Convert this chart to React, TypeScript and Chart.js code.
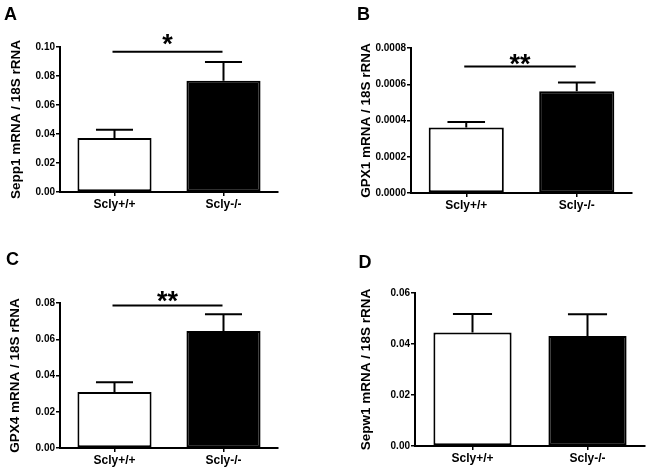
import React, { useEffect, useRef } from "react";
import { Chart, registerables } from "chart.js";

Chart.register(...registerables);

const FONT = "'Liberation Sans', Arial, Helvetica, sans-serif";

const categories = ["Scly+/+", "Scly-/-"];
const barFills = ["#ffffff", "#000000"];

// Panel A: Sepp1
const sepp1Means = [0.0372, 0.0768];
const sepp1Sem = [0.0058, 0.0129];
const sepp1Ticks = [0, 0.02, 0.04, 0.06, 0.08, 0.1];

// Panel B: GPX1
const gpx1Means = [0.000362, 0.000561];
const gpx1Sem = [0.00003, 0.000049];
const gpx1Ticks = [0, 0.0002, 0.0004, 0.0006, 0.0008];

// Panel C: GPX4
const gpx4Means = [0.0309, 0.0646];
const gpx4Sem = [0.0054, 0.0092];
const gpx4Ticks = [0, 0.02, 0.04, 0.06, 0.08];

// Panel D: Sepw1
const sepw1Means = [0.0445, 0.0431];
const sepw1Sem = [0.0073, 0.0086];
const sepw1Ticks = [0, 0.02, 0.04, 0.06];

// significance bracket levels (data units) and labels
const sigLevels = [0.0968, 0.000698, 0.0786, null];
const starLevels = [0.1039, 0.000726, 0.0824, null];
const sigLabels = ["*", "**", "**", ""];

type Panel = {
  letter: string;
  title: string;
  means: number[];
  sem: number[];
  ticks: number[];
  decimals: number;
  sigLevel: number | null;
  starLevel: number | null;
  star: string;
  box: { x: number; y: number; w: number; h: number };
  area: { l: number; r: number; t: number; b: number };
  titleX: number;
  letterPos: { x: number; y: number };
};

const panels: Panel[] = [
  {
    letter: "A",
    title: "Sepp1 mRNA / 18S rRNA",
    means: sepp1Means,
    sem: sepp1Sem,
    ticks: sepp1Ticks,
    decimals: 2,
    sigLevel: sigLevels[0],
    starLevel: starLevels[0],
    star: sigLabels[0],
    box: { x: 0, y: 0, w: 325, h: 235 },
    area: { l: 60, r: 278, t: 47, b: 192 },
    titleX: 16,
    letterPos: { x: 4, y: 5 },
  },
  {
    letter: "B",
    title: "GPX1 mRNA / 18S rRNA",
    means: gpx1Means,
    sem: gpx1Sem,
    ticks: gpx1Ticks,
    decimals: 4,
    sigLevel: sigLevels[1],
    starLevel: starLevels[1],
    star: sigLabels[1],
    box: { x: 325, y: 0, w: 324, h: 235 },
    area: { l: 411, r: 632, t: 48, b: 193 },
    titleX: 366,
    letterPos: { x: 357, y: 4.5 },
  },
  {
    letter: "C",
    title: "GPX4 mRNA / 18S rRNA",
    means: gpx4Means,
    sem: gpx4Sem,
    ticks: gpx4Ticks,
    decimals: 2,
    sigLevel: sigLevels[2],
    starLevel: starLevels[2],
    star: sigLabels[2],
    box: { x: 0, y: 235, w: 325, h: 236 },
    area: { l: 60, r: 278, t: 303, b: 448 },
    titleX: 15.5,
    letterPos: { x: 6, y: 249.5 },
  },
  {
    letter: "D",
    title: "Sepw1 mRNA / 18S rRNA",
    means: sepw1Means,
    sem: sepw1Sem,
    ticks: sepw1Ticks,
    decimals: 2,
    sigLevel: sigLevels[3],
    starLevel: starLevels[3],
    star: sigLabels[3],
    box: { x: 325, y: 235, w: 324, h: 236 },
    area: { l: 415, r: 645, t: 293, b: 446 },
    titleX: 366,
    letterPos: { x: 358.5, y: 252.5 },
  },
];

function makeAnnotPlugin(p: Panel) {
  return {
    id: "annot",
    afterDatasetsDraw(chart: any) {
      const ctx = chart.ctx;
      const meta = chart.getDatasetMeta(0);
      const ys = chart.scales.y;
      const xs = chart.scales.x;
      ctx.save();
      ctx.strokeStyle = "#000";
      ctx.lineWidth = 2;
      ctx.lineCap = "butt";
      p.means.forEach((m, i) => {
        const bar = meta.data[i];
        const cx = bar.x;
        const w = bar.width;
        const y0 = ys.getPixelForValue(m);
        const y1 = ys.getPixelForValue(m + p.sem[i]);
        ctx.beginPath();
        ctx.moveTo(cx, y0);
        ctx.lineTo(cx, y1);
        ctx.moveTo(cx - w / 4, y1);
        ctx.lineTo(cx + w / 4, y1);
        ctx.stroke();
      });
      if (p.sigLevel !== null && p.starLevel !== null) {
        const x0 = xs.getPixelForValue(0) - 2;
        const x1 = xs.getPixelForValue(1) - 1;
        const yS = ys.getPixelForValue(p.sigLevel);
        ctx.beginPath();
        ctx.moveTo(x0, yS);
        ctx.lineTo(x1, yS);
        ctx.stroke();
        const fs = 27;
        ctx.fillStyle = "#000";
        ctx.font = `bold ${fs}px ${FONT}`;
        ctx.textAlign = "center";
        ctx.textBaseline = "alphabetic";
        const yStar = ys.getPixelForValue(p.starLevel) + 0.436 * fs;
        ctx.fillText(p.star, (x0 + x1) / 2, yStar);
      }
      ctx.restore();
    },
  };
}

function PanelChart({ p }: { p: Panel }) {
  const ref = useRef<HTMLCanvasElement>(null);
  useEffect(() => {
    const canvas = ref.current;
    if (!canvas) return;
    const titleSize = 13.5;
    const lh = titleSize * 1.2;
    const padLeft = p.titleX - p.box.x - lh / 2;
    const yWidth = p.area.l - p.box.x - padLeft;
    const xHeight = 22;
    const padTop = p.area.t - p.box.y;
    const padRight = p.box.x + p.box.w - p.area.r;
    const padBottom = p.box.y + p.box.h - p.area.b - xHeight;
    const chart = new Chart(canvas, {
      type: "bar",
      data: {
        labels: categories,
        datasets: [
          {
            data: p.means,
            backgroundColor: barFills,
            borderColor: "#000",
            borderWidth: 2,
            borderSkipped: false,
            barPercentage: 0.68,
            categoryPercentage: 1,
          },
        ],
      },
      options: {
        responsive: false,
        animation: false,
        devicePixelRatio: 1,
        layout: {
          padding: { left: padLeft, top: padTop, right: padRight, bottom: padBottom },
        },
        plugins: {
          legend: { display: false },
          tooltip: { enabled: false },
          title: { display: false },
        },
        scales: {
          x: {
            offset: true,
            grid: {
              display: true,
              offset: false,
              drawOnChartArea: false,
              drawTicks: true,
              tickLength: 4,
              color: "#000",
              lineWidth: 1.5,
            },
            border: { display: true, color: "#000", width: 2 },
            ticks: {
              color: "#000",
              font: { family: FONT, size: 12, weight: "bold" },
              padding: 1,
              maxRotation: 0,
            },
            afterFit: (s: any) => {
              s.height = xHeight;
            },
          },
          y: {
            min: 0,
            max: p.ticks[p.ticks.length - 1],
            grid: {
              display: true,
              drawOnChartArea: false,
              drawTicks: true,
              tickLength: 4,
              color: "#000",
              lineWidth: 1.5,
            },
            border: { display: true, color: "#000", width: 2 },
            ticks: {
              color: "#000",
              font: { family: FONT, size: 10, weight: "bold" },
              padding: 1,
              callback: (v: any) => Number(v).toFixed(p.decimals),
            },
            afterBuildTicks: (s: any) => {
              s.ticks = p.ticks.map((v) => ({ value: v }));
            },
            afterFit: (s: any) => {
              s.width = yWidth;
            },
            title: {
              display: true,
              text: p.title,
              color: "#000",
              font: { family: FONT, size: titleSize, weight: "bold" },
              padding: { top: 0, bottom: 0 },
            },
          },
        },
      } as any,
      plugins: [makeAnnotPlugin(p)],
    });
    return () => chart.destroy();
  }, [p]);
  return (
    <canvas
      ref={ref}
      width={p.box.w}
      height={p.box.h}
      style={{ position: "absolute", left: p.box.x, top: p.box.y, width: p.box.w, height: p.box.h }}
    />
  );
}

export default function App() {
  return (
    <div
      style={{
        position: "absolute",
        left: 0,
        top: 0,
        width: 649,
        height: 471,
        background: "#fff",
        overflow: "hidden",
      }}
    >
      {panels.map((p) => (
        <React.Fragment key={p.letter}>
          <PanelChart p={p} />
          <div
            style={{
              position: "absolute",
              left: p.letterPos.x,
              top: p.letterPos.y,
              fontFamily: FONT,
              fontWeight: "bold",
              fontSize: 18,
              lineHeight: "18px",
              color: "#000",
            }}
          >
            {p.letter}
          </div>
        </React.Fragment>
      ))}
    </div>
  );
}
